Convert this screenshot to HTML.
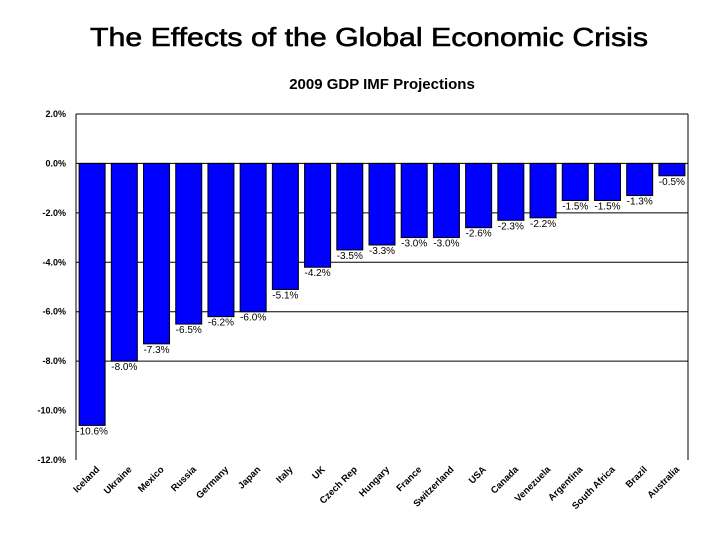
<!DOCTYPE html>
<html><head><meta charset="utf-8">
<style>
body{margin:0;background:#fff;width:720px;height:540px;overflow:hidden;font-family:"Liberation Sans",Arial,sans-serif}
</style></head>
<body>
<svg width="720" height="540" xmlns="http://www.w3.org/2000/svg">
<text x="369" y="46" text-anchor="middle" font-size="26" stroke="#000" stroke-width="0.6" textLength="558" lengthAdjust="spacingAndGlyphs" font-family="Liberation Sans, sans-serif">The Effects of the Global Economic Crisis</text>
<text x="382" y="89" text-anchor="middle" font-size="15" font-weight="bold" font-family="Liberation Sans, sans-serif">2009 GDP IMF Projections</text>
<g id="grid"></g>
<g id="bars"></g>
<line x1="76" y1="114" x2="76" y2="460" stroke="#000"/>
<line x1="688" y1="114" x2="688" y2="460" stroke="#000"/>
</svg>
<script>
const categories=["Iceland","Ukraine","Mexico","Russia","Germany","Japan","Italy","UK","Czech Rep","Hungary","France","Switzerland","USA","Canada","Venezuela","Argentina","South Africa","Brazil","Australia"];
const values=[-10.6,-8.0,-7.3,-6.5,-6.2,-6.0,-5.1,-4.2,-3.5,-3.3,-3.0,-3.0,-2.6,-2.3,-2.2,-1.5,-1.5,-1.3,-0.5];
const ticks=[2,0,-2,-4,-6,-8,-10,-12];
const gridTicks=[2,0,-2,-4,-6,-8];
const NS="http://www.w3.org/2000/svg";
const L=76,R=688,T=114,B=460,ymax=2,ymin=-12;
const y=v=>T+(ymax-v)/(ymax-ymin)*(B-T);
const slot=(R-L)/categories.length;
const x=i=>L+slot*i;
const grid=document.getElementById('grid'),bars=document.getElementById('bars');
function mk(tag,attrs,parent){const e=document.createElementNS(NS,tag);for(const k in attrs)e.setAttribute(k,attrs[k]);parent.appendChild(e);return e;}
gridTicks.forEach(t=>{
  const ln=mk('line',{x1:L,x2:R,y1:y(t),y2:y(t),stroke:'#000','stroke-width':1},grid);
  
  
});
ticks.forEach(t=>{
  const tx=mk('text',{x:L-10,y:y(t)+3,'text-anchor':'end','font-size':9,'font-weight':'bold','font-family':'Liberation Sans, sans-serif'},grid);
  tx.textContent=t.toFixed(1)+'%';
  
  
});
values.forEach((v,i)=>{
  const bw=26,bx=x(i)+(slot-bw)/2;
  const r=mk('rect',{x:bx,y:y(0),width:bw,height:y(v)-y(0),fill:'#0000ff',stroke:'#000','stroke-width':1},bars);
  
  
  const vl=mk('text',{x:bx+bw/2,y:y(v)+9,'text-anchor':'middle','font-size':10,'font-family':'Liberation Sans, sans-serif'},bars);
  vl.textContent=v.toFixed(1)+'%';
  
  
  const cx=bx+bw/2+8,cy=470;
  const cl=mk('text',{x:cx,y:cy,'text-anchor':'end','font-size':9.5,'font-weight':'bold','font-family':'Liberation Sans, sans-serif',transform:`rotate(-45 ${cx} ${cy})`},bars);
  cl.textContent=categories[i];
  
  
});
</script>
</body></html>
